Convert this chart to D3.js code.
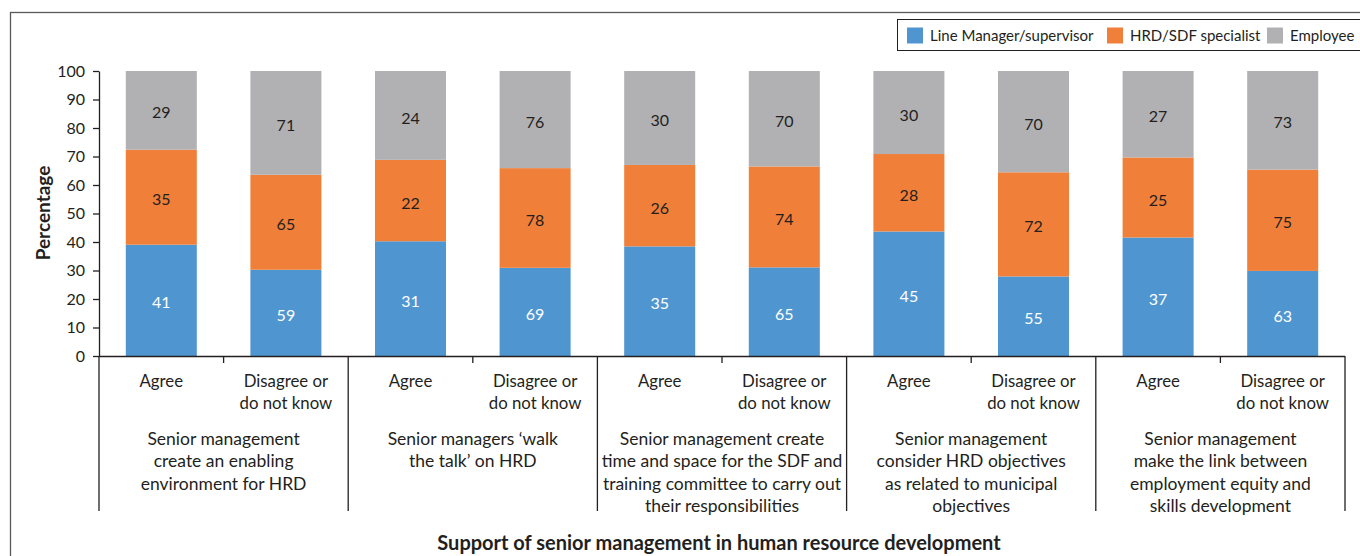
<!DOCTYPE html>
<html>
<head>
<meta charset="utf-8">
<script src="https://cdn.jsdelivr.net/npm/d3@7"></script>
<style>
  html, body { margin: 0; padding: 0; background: #fff; }
  svg { display: block; font-family: Lato, "Open Sans", sans-serif; }
</style>
</head>
<body>
<svg id="chart" width="1360" height="556"></svg>
<script>
// Statements (x-axis groups), each pre-broken into display lines
const statements = [
  ["Senior management", "create an enabling", "environment for HRD"],
  ["Senior managers \u2018walk", "the talk\u2019 on HRD"],
  ["Senior management create", "time and space for the SDF and", "training committee to carry out", "their responsibilities"],
  ["Senior management", "consider HRD objectives", "as related to municipal", "objectives"],
  ["Senior management", "make the link between", "employment equity and", "skills development"]
];
// Response categories within each statement
const responses = [["Agree"], ["Disagree or", "do not know"]];

// Series (counts per bar, in statement/response order)
const seriesNames = ["Line Manager/supervisor", "HRD/SDF specialist", "Employee"];
const lineManager   = [41, 59, 31, 69, 35, 65, 45, 55, 37, 63];
const hrdSpecialist = [35, 65, 22, 78, 26, 74, 28, 72, 25, 75];
const employee      = [29, 71, 24, 76, 30, 70, 30, 70, 27, 73];
const seriesColors  = ["#4F96D1", "#F08039", "#B1B1B4"];

const yTicks = [0, 10, 20, 30, 40, 50, 60, 70, 80, 90, 100];
const yTitle = "Percentage";
const xTitle = "Support of senior management in human resource development";

// Build per-bar records
const bars = [];
statements.forEach((s, gi) => {
  responses.forEach((r, ri) => {
    const i = gi * responses.length + ri;
    bars.push({ key: gi + "-" + ri, group: gi, resp: ri,
      "Line Manager/supervisor": lineManager[i],
      "HRD/SDF specialist": hrdSpecialist[i],
      "Employee": employee[i] });
  });
});

const svg = d3.select("#chart");
const plotBottom = 356;
const ink = "#231F20";

const x = d3.scaleBand().domain(bars.map(d => d.key))
  .range([99, 1345]).paddingInner(0.43).paddingOuter(0.215);
const y = d3.scaleLinear().domain([0, 100]).range([plotBottom, 71]);
const color = d3.scaleOrdinal().domain(seriesNames).range(seriesColors);

// Outer frame
svg.append("rect").attr("x", 10.5).attr("y", 12.5)
  .attr("width", 1400).attr("height", 600)
  .attr("fill", "none").attr("stroke", "#595959").attr("stroke-width", 1.3);

// Normalised stack: each bar sums to 100%
const stack = d3.stack().keys(seriesNames).offset(d3.stackOffsetExpand);
const layers = stack(bars);

const gBars = svg.append("g");
layers.forEach((layer, li) => {
  const g = gBars.append("g").attr("fill", color(layer.key));
  g.selectAll("rect").data(layer).join("rect")
    .attr("x", d => x(d.data.key))
    .attr("width", x.bandwidth())
    .attr("y", d => y(d[1] * 100))
    .attr("height", d => y(d[0] * 100) - y(d[1] * 100));
  g.selectAll("text").data(layer).join("text")
    .attr("x", d => x(d.data.key) + x.bandwidth() / 2)
    .attr("y", d => (y(d[0] * 100) + y(d[1] * 100)) / 2 + 2.5)
    .attr("dy", "0.35em")
    .attr("text-anchor", "middle")
    .attr("font-size", 16)
    .attr("fill", li === 0 ? "#ffffff" : ink)
    .text(d => d.data[layer.key]);
});

// Y axis
const yAxis = d3.axisLeft(y).tickValues(yTicks).tickSize(6).tickSizeOuter(0);
const gy = svg.append("g").attr("transform", "translate(99,0)").call(yAxis);
gy.select(".domain").attr("stroke", ink).attr("stroke-width", 1.3);
gy.selectAll(".tick line").attr("stroke", ink).attr("stroke-width", 1.3);
gy.selectAll(".tick text").attr("font-size", 16).attr("font-family", "Lato")
  .attr("fill", ink).attr("x", -14);

// X axis baseline
const x0 = x.range()[0], x1 = x.range()[1];
svg.append("line").attr("x1", x0).attr("x2", x1)
  .attr("y1", plotBottom + 0.5).attr("y2", plotBottom + 0.5)
  .attr("stroke", ink).attr("stroke-width", 1.3);

const step = x.step();
const gAxis = svg.append("g");
// Group separators (long) and within-group ticks (short)
d3.range(statements.length + 1).forEach(i => {
  const px = x0 + i * step * responses.length;
  gAxis.append("line").attr("x1", px).attr("x2", px)
    .attr("y1", plotBottom).attr("y2", 511)
    .attr("stroke", ink).attr("stroke-width", 1.3);
});
statements.forEach((s, i) => {
  const px = x0 + (i * responses.length + 1) * step;
  gAxis.append("line").attr("x1", px).attr("x2", px)
    .attr("y1", plotBottom).attr("y2", plotBottom + 7)
    .attr("stroke", ink).attr("stroke-width", 1.3);
});

// Response labels
bars.forEach(d => {
  const t = gAxis.append("text")
    .attr("text-anchor", "middle").attr("font-size", 16.8).attr("fill", ink);
  responses[d.resp].forEach((line, li) => {
    t.append("tspan").attr("x", x(d.key) + x.bandwidth() / 2)
      .attr("y", 387 + li * 22).text(line);
  });
});

// Statement labels
statements.forEach((lines, gi) => {
  const cx = x0 + (gi + 0.5) * step * responses.length;
  const t = gAxis.append("text")
    .attr("text-anchor", "middle").attr("font-size", 17.5).attr("fill", ink);
  lines.forEach((line, li) => {
    t.append("tspan").attr("x", cx).attr("y", 444.5 + li * 22.5).text(line);
  });
});

// Axis titles
svg.append("text")
  .attr("transform", `translate(50,213) rotate(-90)`)
  .attr("text-anchor", "middle").attr("font-size", 19).attr("font-weight", "bold")
  .attr("fill", ink).text(yTitle);
svg.append("text")
  .attr("x", 719).attr("y", 550)
  .attr("text-anchor", "middle").attr("font-size", 20).attr("font-weight", "bold")
  .attr("fill", ink).text(xTitle);

// Legend
const legend = svg.append("g");
legend.append("rect").attr("x", 897.5).attr("y", 19.5)
  .attr("width", 480).attr("height", 31)
  .attr("fill", "#fff").attr("stroke", ink).attr("stroke-width", 1);
const legendX = [907, 1107, 1267];
seriesNames.forEach((name, i) => {
  legend.append("rect").attr("x", legendX[i]).attr("y", 27.5)
    .attr("width", 16).attr("height", 16).attr("fill", color(name));
  legend.append("text").attr("x", legendX[i] + 23).attr("y", 41)
    .attr("font-size", 15).attr("fill", ink).text(name);
});
</script>
</body>
</html>
